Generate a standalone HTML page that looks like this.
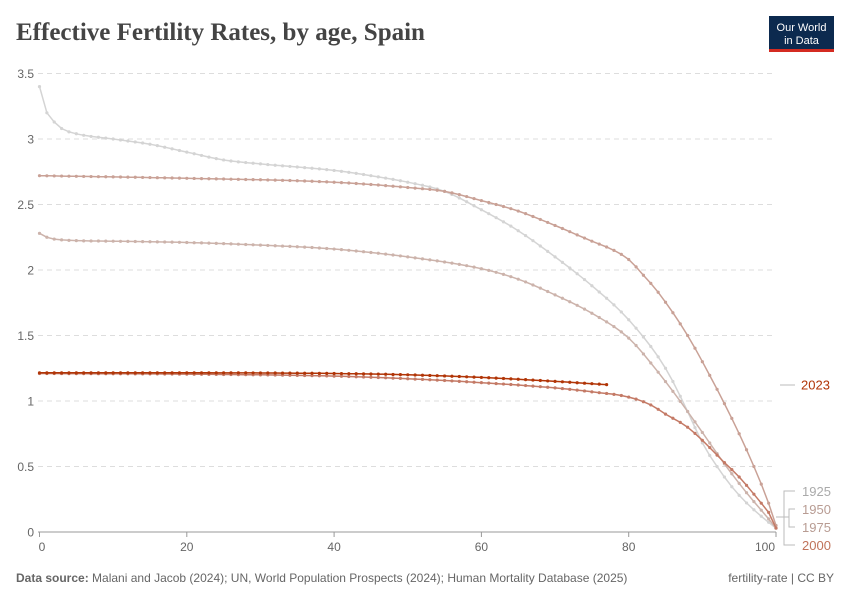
<!DOCTYPE html>
<html><head><meta charset="utf-8"><style>
body{margin:0;background:#fff;font-family:"Liberation Sans",sans-serif}
</style></head><body>
<svg id="s" width="850" height="600" xmlns="http://www.w3.org/2000/svg" font-family="Liberation Sans, sans-serif">
<rect width="850" height="600" fill="#fff"/>
<text x="16" y="40" font-family="Liberation Serif, serif" font-size="25" font-weight="bold" fill="#444">Effective Fertility Rates, by age, Spain</text>
<rect x="769" y="16" width="65" height="36" fill="#0c2a4f"/>
<rect x="769" y="49" width="65" height="3" fill="#d42b21"/>
<text x="801.5" y="31" font-size="11" fill="#fff" text-anchor="middle">Our World</text>
<text x="801.5" y="44" font-size="11" fill="#fff" text-anchor="middle">in Data</text>
<g id="grid"></g>
<g id="lines"></g>
<g font-size="12">
<line x1="780" y1="385" x2="795" y2="385" stroke="#bbb"/>
<text x="801" y="389.5" fill="#b13507" font-size="13">2023</text>
<path d="M776,517 H784 V491 H795 M776,517 H789 V509 H795 M776,517 H789 V527 H795 M776,517 H784 V545 H795" stroke="#bbb" fill="none"/>
<text x="802" y="496" fill="#aaa" font-size="13">1925</text>
<text x="802" y="514" fill="#b89c93" font-size="13">1950</text>
<text x="802" y="532" fill="#b89c93" font-size="13">1975</text>
<text x="802" y="550" fill="#c0735a" font-size="13">2000</text>
</g>
<text x="16" y="582" font-size="12" fill="#666"><tspan font-weight="bold">Data source:</tspan> Malani and Jacob (2024); UN, World Population Prospects (2024); Human Mortality Database (2025)</text>
<text x="834" y="582" font-size="12" fill="#666" text-anchor="end">fertility-rate | CC BY</text>
</svg>
<script>
const X=a=>39.5+a*7.365, Y=v=>532-v*131;
const NS="http://www.w3.org/2000/svg";
const g=document.getElementById('grid'), L=document.getElementById('lines');
function el(p,t,a,txt){const e=document.createElementNS(NS,t);for(const k in a)e.setAttribute(k,a[k]);if(txt!=null)e.textContent=txt;p.appendChild(e);return e;}
[0.5,1,1.5,2,2.5,3,3.5].forEach(v=>{el(g,'line',{x1:38,x2:776,y1:Y(v),y2:Y(v),stroke:'#ddd','stroke-dasharray':'5,4'});});
[0,0.5,1,1.5,2,2.5,3,3.5].forEach(v=>el(g,'text',{x:34,y:Y(v)+4.5,'text-anchor':'end','font-size':12,fill:'#666'},String(v)));
el(g,'line',{x1:38,x2:776,y1:532,y2:532,stroke:'#999'});
[0,20,40,60,80,100].forEach(a=>{el(g,'line',{x1:X(a),x2:X(a),y1:532,y2:537,stroke:'#999'});el(g,'text',{x:a==100?765:(a==0?42:X(a)),y:551,'text-anchor':'middle','font-size':12,fill:'#666'},String(a));});
const S=[
{c:'#d4d4d4',k:[[0,3.4],[1,3.2],[2,3.13],[3,3.08],[5,3.04],[10,3.0],[15,2.96],[20,2.9],[25,2.84],[30,2.81],[40,2.76],[45,2.72],[50,2.67],[55,2.6],[60,2.46],[65,2.3],[70,2.1],[75,1.88],[80,1.62],[85,1.25],[88,0.92],[90,0.68],[93,0.42],[95,0.28],[98,0.12],[100,0.03]]},
{c:'#ccb3ab',k:[[0,2.28],[1,2.25],[3,2.23],[10,2.22],[20,2.21],[30,2.19],[40,2.16],[50,2.1],[60,2.01],[65,1.93],[70,1.81],[75,1.67],[80,1.48],[84,1.22],[88,0.92],[90,0.76],[93,0.52],[96,0.3],[99,0.1],[100,0.03]]},
{c:'#c9a196',k:[[0,2.72],[20,2.7],[40,2.67],[50,2.63],[55,2.6],[60,2.53],[65,2.45],[70,2.34],[75,2.22],[78,2.15],[80,2.08],[82,1.96],[84,1.83],[88,1.5],[90,1.3],[93,0.98],[95,0.75],[97,0.5],[99,0.22],[100,0.05]]},
{c:'#c47a66',k:[[0,1.21],[20,1.205],[40,1.19],[50,1.17],[60,1.14],[70,1.1],[75,1.07],[80,1.03],[83,0.97],[85,0.9],[88,0.8],[90,0.7],[93,0.53],[95,0.42],[98,0.22],[99,0.15],[100,0.03]]},
{c:'#b13507',k:[[0,1.215],[20,1.215],[40,1.21],[50,1.2],[60,1.18],[70,1.15],[77,1.125]]}
];
function mono(k){const n=k.length,d=[],m=[];for(let i=0;i<n-1;i++)d.push((k[i+1][1]-k[i][1])/(k[i+1][0]-k[i][0]));m[0]=d[0];m[n-1]=d[n-2];for(let i=1;i<n-1;i++)m[i]=(d[i-1]*d[i]<=0)?0:(d[i-1]+d[i])/2;
for(let i=0;i<n-1;i++){if(d[i]==0){m[i]=m[i+1]=0;continue;}const a=m[i]/d[i],b=m[i+1]/d[i],s=a*a+b*b;if(s>9){const t=3/Math.sqrt(s);m[i]=t*a*d[i];m[i+1]=t*b*d[i];}}
return a=>{let i=0;while(i<n-2&&a>k[i+1][0])i++;const h=k[i+1][0]-k[i][0],t=(a-k[i][0])/h,t2=t*t,t3=t2*t;
return (2*t3-3*t2+1)*k[i][1]+(t3-2*t2+t)*h*m[i]+(-2*t3+3*t2)*k[i+1][1]+(t3-t2)*h*m[i+1];};}
S.forEach(s=>{const f=mono(s.k);const end=s.k[s.k.length-1][0];let d='';const pts=[];for(let a=0;a<=end;a++){const p=[X(a),Y(f(a))];pts.push(p);d+=(a?'L':'M')+p[0].toFixed(1)+','+p[1].toFixed(1);}
el(L,'path',{d:d,fill:'none',stroke:s.c,'stroke-width':1.5});
pts.forEach(p=>el(L,'circle',{cx:p[0],cy:p[1],r:1.6,fill:s.c}));});
</script>
</body></html>
